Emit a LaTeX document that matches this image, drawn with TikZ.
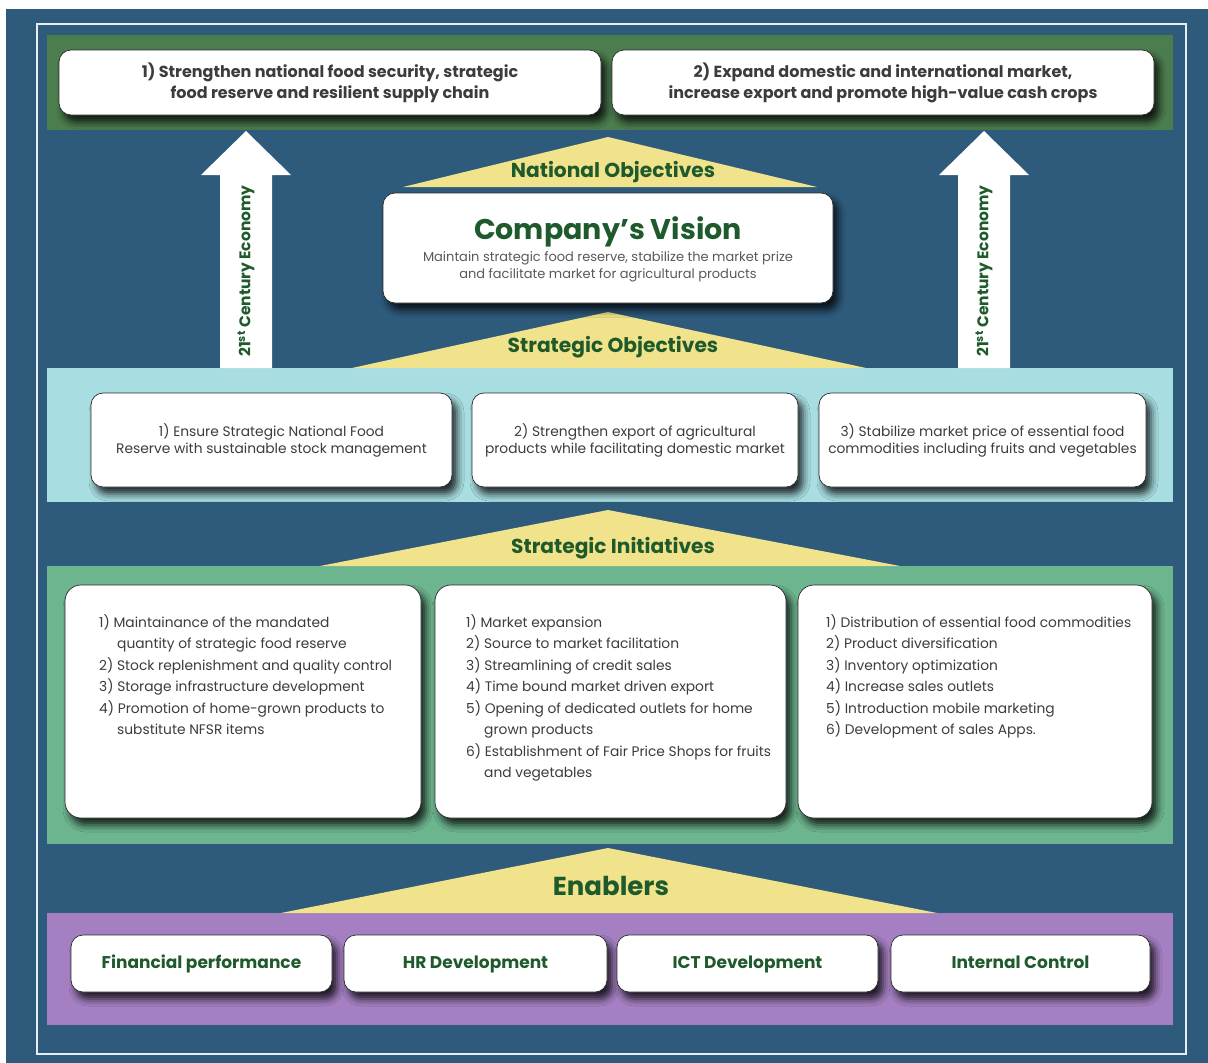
\documentclass[tikz,border=0pt]{standalone}
\usepackage{fontspec}
\setmainfont{Poppins}
\usetikzlibrary{shadows.blur}

\definecolor{pageblue}{HTML}{2E5A7C}
\definecolor{framewhite}{HTML}{E6EEF4}
\definecolor{goalgreen}{HTML}{4C7D4E}
\definecolor{objcyan}{HTML}{A8DDE1}
\definecolor{inigreen}{HTML}{6DB58E}
\definecolor{enpurple}{HTML}{A47FC1}
\definecolor{roofyellow}{HTML}{F1E38C}
\definecolor{titlegreen}{HTML}{1F5A2C}
\definecolor{bodygray}{HTML}{3C3C3C}
\definecolor{cardline}{HTML}{2A2A2A}

\tikzset{
  card/.style={draw=cardline, line width=0.7pt, fill=white, rounded corners=12pt,
    blur shadow={shadow xshift=5pt, shadow yshift=-7pt, shadow blur radius=7pt, shadow opacity=80}},
  goal/.style={card, minimum width=542pt, minimum height=65pt, align=center,
    text=bodygray, font=\fontsize{16}{21}\selectfont\bfseries},
  objective/.style={card, minimum height=94pt, align=center,
    text=bodygray, font=\fontsize{13.8}{17}\selectfont},
  initiative/.style={card, rounded corners=16pt, minimum height=233pt},
  initext/.style={anchor=north west, inner sep=0pt, align=left,
    text=bodygray, font=\fontsize{13.8}{21.5}\selectfont},
  enabler/.style={card, minimum height=57pt, text height=12.5pt, text depth=3.5pt,
    text=titlegreen, font=\fontsize{17}{20}\selectfont\bfseries},
  rooflabel/.style={text=titlegreen, font=\fontsize{20.2}{23}\selectfont\bfseries},
  econ/.style={rotate=90, text=titlegreen, font=\fontsize{15.5}{18}\selectfont\bfseries}
}

\begin{document}
\begin{tikzpicture}[x=1pt, y=-1pt]
  % page, frame and coloured bands
  \fill[white] (0,0) rectangle (1208,1063);
  \fill[pageblue] (6,9) rectangle (1208,1063);
  \draw[framewhite, line width=2.2pt] (37,24) rectangle (1186,1054);
  \fill[goalgreen] (47,35) rectangle (1173,130);
  \fill[objcyan] (47,368) rectangle (1173,502);
  \fill[inigreen] (47,566) rectangle (1173,844);
  \fill[enpurple] (47,913) rectangle (1173,1025);

  % yellow roofs over each level
  \fill[roofyellow] (403,187) -- (608,137) -- (817,187) -- cycle;
  \fill[roofyellow] (352,368) -- (608,312) -- (866,368) -- cycle;
  \fill[roofyellow] (320,566) -- (608,510) -- (900,566) -- cycle;
  \fill[roofyellow] (281,913) -- (608,848) -- (937,913) -- cycle;
  \node[rooflabel] (natlabel) at (613,172) {National Objectives};
  \node[rooflabel] (objlabel) at (613,347) {Strategic Objectives};
  \node[rooflabel] (inilabel) at (613,548) {Strategic Initiatives};
  \node[rooflabel, font=\fontsize{26}{30}\selectfont\bfseries] (enlabel) at (611,886) {Enablers};

  % upward arrows
  \foreach \ax/\nm in {246/econL, 984/econR} {
    \fill[white] (\ax-26,368) -- (\ax-26,175) -- (\ax-45,175) -- (\ax,131)
      -- (\ax+45,175) -- (\ax+26,175) -- (\ax+26,368) -- cycle;
    \node[econ] (\nm) at (\ax,271) {21\textsuperscript{st} Century Economy};
  }

  % national objectives
  \node[goal] (goal1) at (330,82.5) {1) Strengthen national food security, strategic\\food reserve and resilient supply chain};
  \node[goal] (goal2) at (883,82.5) {2) Expand domestic and international market,\\increase export and promote high-value cash crops};

  % vision
  \node[card, minimum width=450pt, minimum height=110pt] (vision) at (608,248) {};
  \node[text=titlegreen, font=\fontsize{28.5}{32}\selectfont\bfseries] (visiontitle) at (608,232) {Company’s Vision};
  \node[text=bodygray!85, align=center, font=\fontsize{13}{16.5}\selectfont] (visiontext) at (608,267)
    {Maintain strategic food reserve, stabilize the market prize\\and facilitate market for agricultural products};

  % strategic objectives
  \node[objective, minimum width=361pt] (obj1) at (271.5,440) {1) Ensure Strategic National Food\\Reserve with sustainable stock management};
  \node[objective, minimum width=326pt] (obj2) at (635,440) {2) Strengthen export of agricultural\\products while facilitating domestic market};
  \node[objective, minimum width=327pt] (obj3) at (982.5,440) {3) Stabilize market price of essential food\\commodities including fruits and vegetables};

  % strategic initiatives
  \node[initiative, minimum width=356pt] (ini1) at (243,701.5) {};
  \node[initiative, minimum width=351pt] (ini2) at (610.5,701.5) {};
  \node[initiative, minimum width=354pt] (ini3) at (975,701.5) {};
  \node[initext] (ini1txt) at (99,614) {1) Maintainance of the mandated\\
    \hspace*{18pt}quantity of strategic food reserve\\
    2) Stock replenishment and quality control\\
    3) Storage infrastructure development\\
    4) Promotion of home-grown products to\\
    \hspace*{18pt}substitute NFSR items};
  \node[initext] (ini2txt) at (466,614) {1) Market expansion\\
    2) Source to market facilitation\\
    3) Streamlining of credit sales\\
    4) Time bound market driven export\\
    5) Opening of dedicated outlets for home\\
    \hspace*{18pt}grown products\\
    6) Establishment of Fair Price Shops for fruits\\
    \hspace*{18pt}and vegetables};
  \node[initext] (ini3txt) at (826,614) {1) Distribution of essential food commodities\\
    2) Product diversification\\
    3) Inventory optimization\\
    4) Increase sales outlets\\
    5) Introduction mobile marketing\\
    6) Development of sales Apps.};

  % enablers
  \node[enabler, minimum width=261pt] (en1) at (201.5,963.5) {Financial performance};
  \node[enabler, minimum width=263pt] (en2) at (475.5,963.5) {HR Development};
  \node[enabler, minimum width=261pt] (en3) at (747.5,963.5) {ICT Development};
  \node[enabler, minimum width=259pt] (en4) at (1020.5,963.5) {Internal Control};
\end{tikzpicture}
\end{document}
